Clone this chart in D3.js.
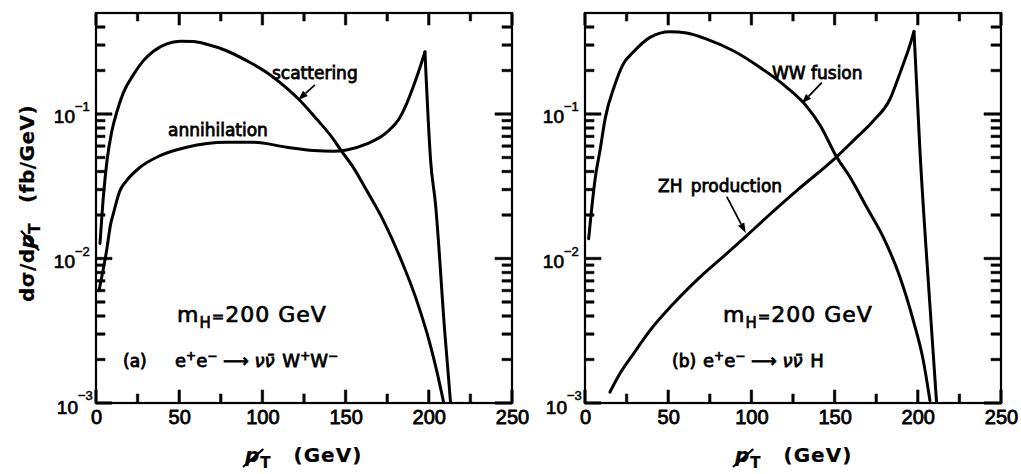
<!DOCTYPE html>
<html>
<head>
<meta charset="utf-8">
<script src="https://cdn.jsdelivr.net/npm/d3@7"></script>
<style>
  body { margin: 0; background: #fff; }
  svg { display: block; }
</style>
</head>
<body>
<svg id="fig" width="1021" height="474"></svg>
<script>
// ---------- data: missing-pT distributions, m_H = 200 GeV ----------
// panel (a): e+e- -> nu nubar W+W-
const scatteringPt  = [2.4, 4.4, 6.6, 9.4, 12.6, 16.4, 22.6, 28.5, 34.5, 42.5, 50.5, 58.5, 66.5, 78.5, 90.5, 102.6, 114.6, 122.6, 132.6, 142.6, 146.6, 154.6, 162.7, 172.7, 182.7, 192.7, 200.7, 204.7, 209.0];
const scatteringVal = [0.0127, 0.0265, 0.0475, 0.075, 0.104, 0.140, 0.188, 0.234, 0.272, 0.306, 0.319, 0.317, 0.304, 0.274, 0.234, 0.194, 0.151, 0.124, 0.0922, 0.0671, 0.0573, 0.0427, 0.0295, 0.0183, 0.0102, 0.00513, 0.00257, 0.00168, 0.00100];

const annihilationPt  = [1.8, 6.4, 8.8, 10.4, 14.4, 18.4, 26.4, 38.5, 54.5, 78.5, 94.6, 114.6, 130.6, 142.6, 150.6, 162.7, 174.7, 182.7, 186.7, 190.7, 194.7, 197.7, 201.1, 204.0, 209.6, 213.1];
const annihilationVal = [0.0060, 0.0114, 0.0173, 0.0204, 0.0295, 0.0346, 0.0427, 0.0515, 0.0589, 0.0637, 0.0637, 0.0589, 0.0558, 0.0552, 0.0564, 0.0621, 0.0746, 0.0948, 0.118, 0.155, 0.210, 0.269, 0.0474, 0.0240, 0.0031, 0.0010];

// panel (b): e+e- -> nu nubar H
const wwFusionPt  = [2.2, 6.2, 9.0, 12.2, 17.6, 23.0, 28.6, 39.1, 51.1, 61.1, 73.1, 89.1, 105.2, 121.2, 133.2, 141.2, 151.2, 159.3, 169.3, 179.3, 189.3, 197.3, 203.3, 207.3];
const wwFusionVal = [0.0137, 0.0364, 0.0558, 0.094, 0.155, 0.222, 0.265, 0.339, 0.371, 0.363, 0.330, 0.274, 0.210, 0.153, 0.113, 0.084, 0.0505, 0.0365, 0.0226, 0.0140, 0.00743, 0.00372, 0.00197, 0.00104];

const zhPt  = [15.0, 21.0, 29.1, 39.1, 53.1, 69.1, 85.1, 97.2, 109.2, 129.2, 149.2, 161.3, 173.3, 183.3, 187.3, 191.3, 194.3, 197.7, 201.3, 207.1, 211.3];
const zhVal = [0.00119, 0.00160, 0.00219, 0.00318, 0.00486, 0.00743, 0.0108, 0.0144, 0.0193, 0.0308, 0.0481, 0.0655, 0.0899, 0.127, 0.166, 0.222, 0.277, 0.373, 0.0556, 0.0051, 0.0010];

// axis ticks
const xMajorTicks = [0, 50, 100, 150, 200, 250];
const xMinorTicks = [25, 75, 125, 175, 225];
const yDecadeTicks = [1e-3, 1e-2, 1e-1];
const yMinorTicks = [0.002, 0.003, 0.004, 0.005, 0.006, 0.007, 0.008, 0.009,
                     0.02, 0.03, 0.04, 0.05, 0.06, 0.07, 0.08, 0.09,
                     0.2, 0.3, 0.4];
const yDecadeExp = ["\u22123", "\u22122", "\u22121"];

// ---------- layout ----------
const W = 1021, H = 474;
const PW = 416, PH = 390;
const TEXT_FONT = "'DejaVu Sans', sans-serif";
const TICK_FONT = "'Liberation Sans', Arial, sans-serif";

const svg = d3.select("#fig");
svg.append("rect").attr("width", W).attr("height", H).attr("fill", "#fff");

const xScale = d3.scaleLinear().domain([0, 250]).range([0, PW]);
const yScale = d3.scaleLog().domain([1e-3, 0.5]).range([PH, 0]);

const curveGen = d3.line()
  .x(d => xScale(d[0]))
  .y(d => yScale(d[1]))
  .curve(d3.curveMonotoneX);

function zipSeries(pts, vals) { return pts.map((p, i) => [p, vals[i]]); }

// draw one curve; a sharp kinematic edge is split into a rising and a falling piece
function drawCurve(g, pts, vals, clipId) {
  const data = zipSeries(pts, vals);
  let peak = -1;
  for (let i = 1; i < data.length - 1; i++) {
    const ratio = data[i][1] / data[i + 1][1];
    if (data[i][1] > data[i - 1][1] && ratio > 3) { peak = i; break; }
  }
  const pieces = peak > 0 ? [data.slice(0, peak + 1), data.slice(peak)] : [data];
  pieces.forEach(pc => {
    g.append("path")
      .attr("d", curveGen(pc))
      .attr("fill", "none")
      .attr("stroke", "#000")
      .attr("stroke-width", 3)
      .attr("stroke-linejoin", "round")
      .attr("stroke-linecap", "round")
      .attr("clip-path", `url(#${clipId})`);
  });
}

// tick marks: each one a small filled polygon pointing into the frame
function tickShapes() {
  const shapes = [];
  const bar = (x0, y0, x1, y1) => `M${x0},${y0}L${x1},${y0}L${x1},${y1}L${x0},${y1}Z`;
  xMinorTicks.map(v => [v, 9]).concat(xMajorTicks.map(v => [v, 13])).forEach(([v, len]) => {
    const px = xScale(v);
    shapes.push(bar(px - 1.2, PH, px + 1.2, PH - len));
    shapes.push(bar(px - 1.2, 0, px + 1.2, len - 1));
  });
  yMinorTicks.map(v => [v, 9]).concat(yDecadeTicks.map(v => [v, 16])).forEach(([v, len]) => {
    const py = yScale(v);
    shapes.push(bar(0, py - 1.2, len, py + 1.2));
    shapes.push(bar(PW, py - 1.2, PW - len - 1, py + 1.2));
  });
  return shapes;
}

function arrow(g, from, to) {
  const x1 = xScale(from[0]), y1 = yScale(from[1]), x2 = xScale(to[0]), y2 = yScale(to[1]);
  const ang = Math.atan2(y2 - y1, x2 - x1);
  const L = 10, Wd = 3.5;
  const bx = x2 - L * Math.cos(ang), by = y2 - L * Math.sin(ang);
  g.append("line").attr("x1", x1).attr("y1", y1).attr("x2", bx).attr("y2", by)
    .attr("stroke", "#000").attr("stroke-width", 1.8);
  const px = -Math.sin(ang) * Wd, py = Math.cos(ang) * Wd;
  g.append("path")
    .attr("d", `M${x2},${y2}L${bx + px},${by + py}L${bx - px},${by - py}Z`)
    .attr("fill", "#000");
}

// rich text: array of parts {t, size, dy, dx, style}
function richText(g, xPos, yPos, parts, opts) {
  opts = opts || {};
  const t = g.append("text")
    .attr("x", xPos).attr("y", yPos)
    .attr("font-family", opts.family || TEXT_FONT)
    .attr("font-size", opts.size || 18)
    .attr("font-weight", opts.weight || "normal")
    .attr("fill", "#000")
    .attr("stroke", "#000")
    .attr("stroke-width", opts.stroke || 0.3)
    .attr("text-anchor", opts.anchor || "start");
  if (opts.letter) t.attr("letter-spacing", opts.letter);
  if (opts.word) t.attr("word-spacing", opts.word);
  parts.forEach(p => {
    const s = t.append("tspan").text(p.t);
    if (p.size) s.attr("font-size", p.size);
    if (p.dy) s.attr("dy", p.dy);
    if (p.dx) s.attr("dx", p.dx);
    if (p.style) s.attr("font-style", p.style);
  });
  return t;
}

const panels = [
  {
    id: "a", x0: 96, y0: 13,
    series: [[scatteringPt, scatteringVal], [annihilationPt, annihilationVal]],
    labels: [
      { x: 176, y: 66, text: "scattering", word: 0 },
      { x: 72, y: 123, text: "annihilation", word: 0 }
    ],
    arrows: [{ from: [131.6, 0.159], to: [121.4, 0.125] }],
    mass: { x: 81, y: 309 },
    tag: { x: 27, text: "(a)" },
    reaction: { x: 79, final: [{ t: " W", dx: 2 }, { t: "+", size: 12, dy: -7 }, { t: "W", dy: 7 }, { t: "\u2212", size: 12, dy: -7 }] },
    title: 149
  },
  {
    id: "b", x0: 585, y0: 13,
    series: [[wwFusionPt, wwFusionVal], [zhPt, zhVal]],
    labels: [
      { x: 187, y: 66, text: "WW fusion", word: 0 },
      { x: 73, y: 179, text: "ZH production", word: 3 }
    ],
    arrows: [
      { from: [142.3, 0.165], to: [130.2, 0.118] },
      { from: [85.2, 0.0268], to: [96.6, 0.0150] }
    ],
    mass: { x: 138, y: 309 },
    tag: { x: 87, text: "(b)" },
    reaction: { x: 118, final: [{ t: " H", dx: 2 }] },
    title: 150
  }
];

panels.forEach(p => {
  const g = svg.append("g").attr("transform", `translate(${p.x0},${p.y0})`);
  const clipId = "clip-" + p.id;
  g.append("clipPath").attr("id", clipId)
    .append("rect").attr("x", 0).attr("y", 0).attr("width", PW).attr("height", PH);

  // x tick labels
  const xl = g.append("g").attr("transform", `translate(0,${PH})`)
    .call(d3.axisBottom(xScale).tickValues(xMajorTicks).tickSize(0).tickPadding(7).tickFormat(d3.format("d")));
  xl.select(".domain").remove();
  xl.selectAll(".tick text")
    .attr("font-family", TICK_FONT).attr("font-size", 20)
    .attr("fill", "#000").attr("stroke", "#000").attr("stroke-width", 0.8);

  // y tick labels 10^n
  yDecadeTicks.forEach((v, i) => {
    const ty = yScale(v);
    const last = i === 0;
    const dx = last ? 3 : 0, dy = last ? 2 : 0;
    g.append("text").attr("x", -21 + dx).attr("y", ty + 9 + dy)
      .attr("text-anchor", "end").attr("font-family", TICK_FONT).attr("font-size", 19)
      .attr("fill", "#000").attr("stroke", "#000").attr("stroke-width", 0.7).text("10");
    g.append("text").attr("x", -21 + dx).attr("y", ty - 3 + dy - (last ? 2 : 0))
      .attr("font-family", TICK_FONT).attr("font-size", 13)
      .attr("fill", "#000").attr("stroke", "#000").attr("stroke-width", 0.5).text(yDecadeExp[i]);
  });

  // curves
  p.series.forEach(s => drawCurve(g, s[0], s[1], clipId));

  // frame
  g.append("rect").attr("x", 0).attr("y", 0).attr("width", PW).attr("height", PH)
    .attr("fill", "none").attr("stroke", "#000").attr("stroke-width", 2.2);

  // tick marks
  g.selectAll("path.tickmark").data(tickShapes()).enter().append("path")
    .attr("class", "tickmark")
    .attr("d", d => d)
    .attr("fill", "#000")
    .attr("stroke", "#000")
    .attr("stroke-width", 0.6);

  // curve labels and arrows
  p.labels.forEach(l => richText(g, l.x, l.y, [{ t: l.text }], { size: 17, stroke: 0.8, word: l.word }));
  p.arrows.forEach(a => arrow(g, a.from, a.to));

  // m_H = 200 GeV
  richText(g, p.mass.x, p.mass.y, [
    { t: "m" }, { t: "H", size: 15, dy: 6 }, { t: "=", size: 15, dy: -6 }, { t: "200 GeV" }
  ], { size: 22, stroke: 0.7, letter: 1 });

  // process
  richText(g, p.tag.x, 354, [{ t: p.tag.text }], { size: 17, stroke: 0.9 });
  richText(g, p.reaction.x, 354, [
    { t: "e" }, { t: "+", size: 12, dy: -7 }, { t: "e", dy: 7 }, { t: "\u2212", size: 12, dy: -7 },
    { t: " \u27F6 ", dy: 7 }, { t: "\u03BD\u03BD\u0304", style: "italic" }
  ].concat(p.reaction.final), { size: 18, stroke: 0.8 });

  // x-axis title: missing p_T
  const tb = 449;
  const xt = richText(g, p.title, tb, [
    { t: "p", style: "italic" }, { t: "T", size: 15, dy: 6 }, { t: "(GeV)", dy: -6, dx: 22 }
  ], { size: 20, weight: "bold", stroke: 0.2, letter: 1 });
  const ext = xt.node().getExtentOfChar(0);
  g.append("line")
    .attr("x1", ext.x - 2).attr("y1", tb + 5)
    .attr("x2", ext.x + ext.width + 3).attr("y2", tb - 13)
    .attr("stroke", "#000").attr("stroke-width", 2.2);
});

// y-axis title (left panel only)
const yt = svg.append("g").attr("transform", "translate(34,302) rotate(-90)");
const ytText = richText(yt, 0, 0, [
  { t: "d\u03C3/d" }, { t: "p", style: "italic" }, { t: "T", size: 15, dy: 6 }, { t: "(fb/GeV)", dy: -6, dx: 20 }
], { size: 20, weight: "bold", stroke: 0.2, letter: 0.5 });
const pe = ytText.node().getExtentOfChar(4);
yt.append("line")
  .attr("x1", pe.x - 2).attr("y1", 5)
  .attr("x2", pe.x + pe.width + 3).attr("y2", -13)
  .attr("stroke", "#000").attr("stroke-width", 2.2);
</script>
</body>
</html>
